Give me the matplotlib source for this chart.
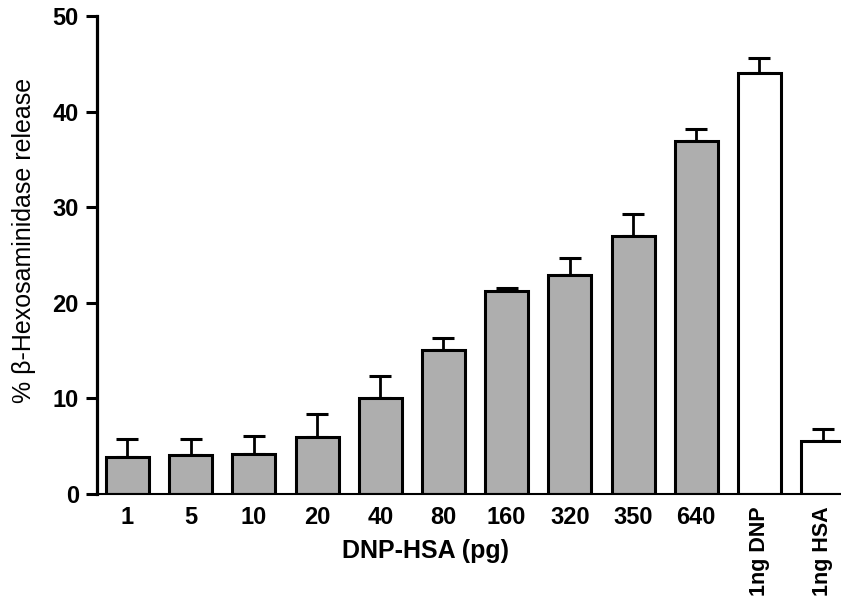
import numpy as np
import matplotlib
matplotlib.use('Agg')
import matplotlib.pyplot as plt

plt.rcParams['font.family'] = ['Liberation Sans', 'DejaVu Sans']

# bar labels and values
labels = ['1', '5', '10', '20', '40', '80', '160', '320', '350', '640', '1ng DNP', '1ng HSA']
means = [3.9, 4.05, 4.2, 5.95, 10.0, 15.1, 21.2, 22.9, 27.0, 36.9, 44.0, 5.5]
err_top = [5.8, 5.8, 6.1, 8.4, 12.3, 16.3, 21.5, 24.7, 29.3, 38.2, 45.6, 6.8]
colors = ['#aeaeae'] * 10 + ['white'] * 2

sem = np.array(err_top) - np.array(means)
x = np.arange(len(labels))

fig = plt.figure(figsize=(8.41, 6.03), dpi=100)
ax = fig.add_axes([0.1153, 0.1808, 0.8847, 0.7927])

ax.errorbar(x, means, yerr=[np.zeros(len(x)), sem], fmt='none', ecolor='black',
            elinewidth=2.0, capsize=8, capthick=2.2, zorder=1)
ax.bar(x, means, width=0.68, color=colors, edgecolor='black', linewidth=2.2, zorder=2)

ax.set_xlim(-0.4826, 11.29)
ax.set_ylim(0, 50)
ax.set_yticks([0, 10, 20, 30, 40, 50])

ax.spines['top'].set_visible(False)
ax.spines['right'].set_visible(False)
ax.spines['left'].set_linewidth(2.3)
ax.spines['bottom'].set_linewidth(1.5)

ax.tick_params(axis='y', length=8, width=2.2, pad=5, labelsize=17)
ax.tick_params(axis='x', length=0, pad=9, labelsize=17)
for t in ax.get_yticklabels():
    t.set_fontweight('bold')

ax.set_xticks(x)
ax.set_xticklabels(labels)
for i, t in enumerate(ax.get_xticklabels()):
    t.set_fontweight('bold')
    if i >= 10:
        t.set_rotation(90)
        t.set_va('top')
        t.set_ha('center')
        t.set_fontsize(15.5)

ax.set_xlabel('DNP-HSA (pg)', fontsize=18, fontweight='bold')
ax.xaxis.set_label_coords(0.442, -0.094)
ax.set_ylabel('% β-Hexosaminidase release', fontsize=18)
ax.yaxis.set_label_coords(-0.082, 0.531)

fig.savefig('out.png', dpi=100)
